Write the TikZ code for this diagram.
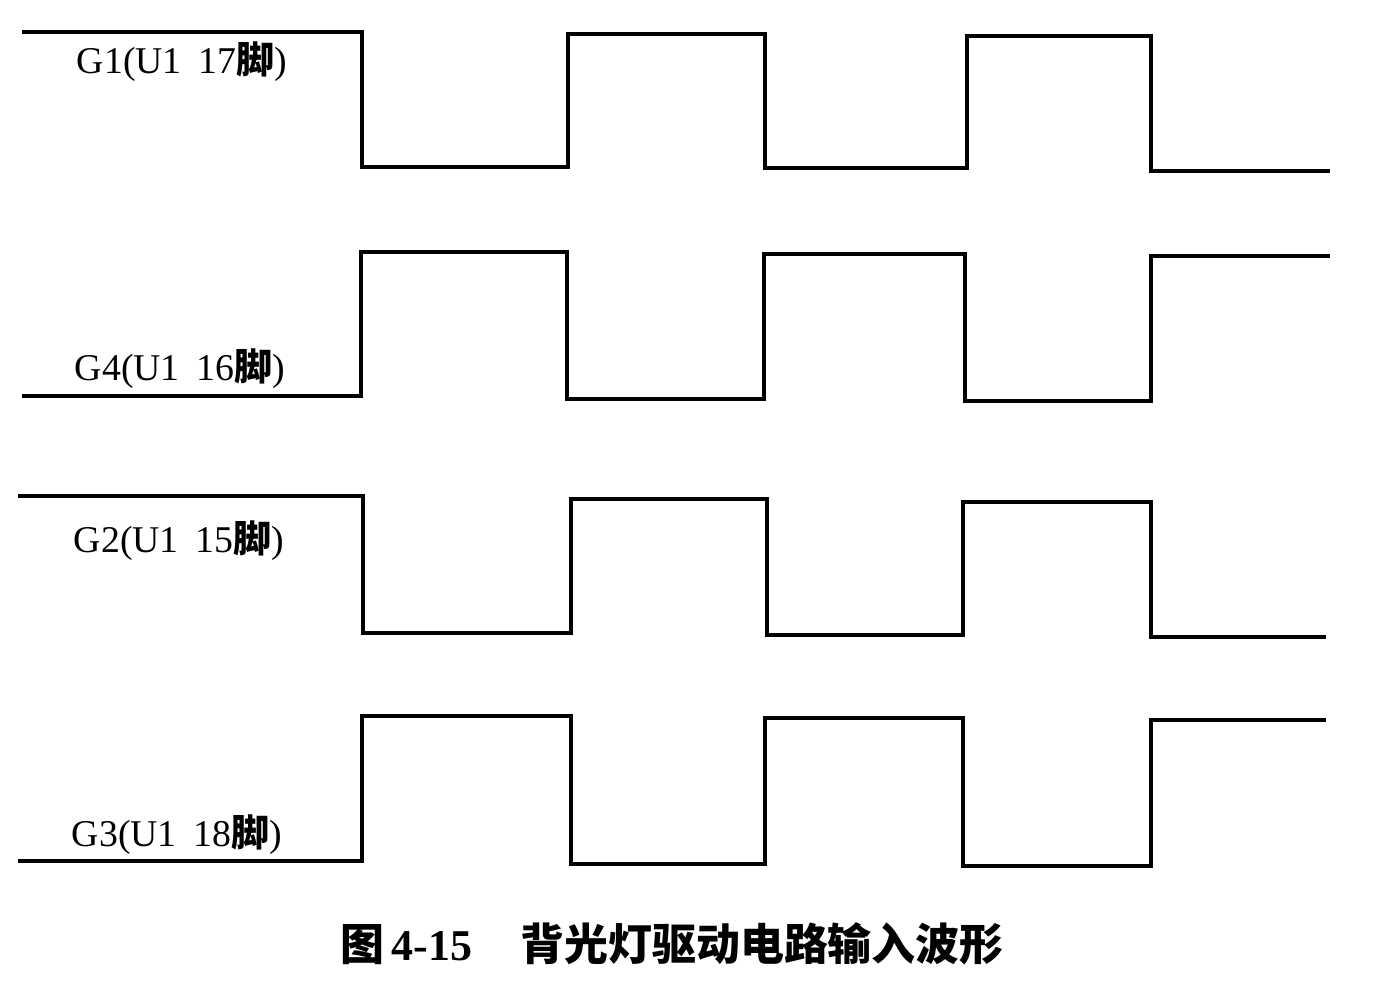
\documentclass[tikz,border=0pt]{standalone}
\usepackage{fontspec}
\setmainfont{Liberation Serif}
\newfontfamily\cjk{Noto Sans CJK SC}
\usepackage{tikz}
\tikzstyle{wave}=[line width=2pt,line join=miter,black]
\tikzstyle{pinlabel}=[inner sep=0,font=\fontsize{21.5}{21.5}\selectfont]
\tikzstyle{caption}=[inner sep=0,font=\fontsize{25}{25}\selectfont\bfseries]

\begin{document}
\begin{tikzpicture}[x=0.02cm,y=-0.02cm]
        \useasboundingbox (0,0) rectangle (1386,996);

        % G1
        \draw[wave] (22,32) -- (362,32) -- (362,167) -- (568,167) -- (568,34)
            -- (765,34) -- (765,168) -- (967,168) -- (967,36) -- (1151,36)
            -- (1151,171) -- (1330,171);
        % G4
        \draw[wave] (22,396) -- (361,396) -- (361,252) -- (567,252) -- (567,399)
            -- (764,399) -- (764,254) -- (965,254) -- (965,401) -- (1151,401)
            -- (1151,256) -- (1330,256);
        % G2
        \draw[wave] (18,496) -- (363,496) -- (363,633) -- (571,633) -- (571,499)
            -- (767,499) -- (767,635) -- (963,635) -- (963,502) -- (1151,502)
            -- (1151,637) -- (1326,637);
        % G3
        \draw[wave] (18,861) -- (362,861) -- (362,716) -- (571,716) -- (571,864)
            -- (765,864) -- (765,718) -- (963,718) -- (963,866) -- (1151,866)
            -- (1151,720) -- (1326,720);

        \node[pinlabel] (g1) at (182,62) {G1(U1\hspace{0.45em}17{\cjk\bfseries 脚})};
        \node[pinlabel] (g4) at (180,369) {G4(U1\hspace{0.45em}16{\cjk\bfseries 脚})};
        \node[pinlabel] (g2) at (179,541) {G2(U1\hspace{0.45em}15{\cjk\bfseries 脚})};
        \node[pinlabel] (g3) at (177,835) {G3(U1\hspace{0.45em}18{\cjk\bfseries 脚})};

        \node[caption] (title) at (672,944)
            {{\cjk 图}\,4-15\hspace{1.1em}{\cjk 背光灯驱动电路输入波形}};
    \end{tikzpicture}
\end{document}
